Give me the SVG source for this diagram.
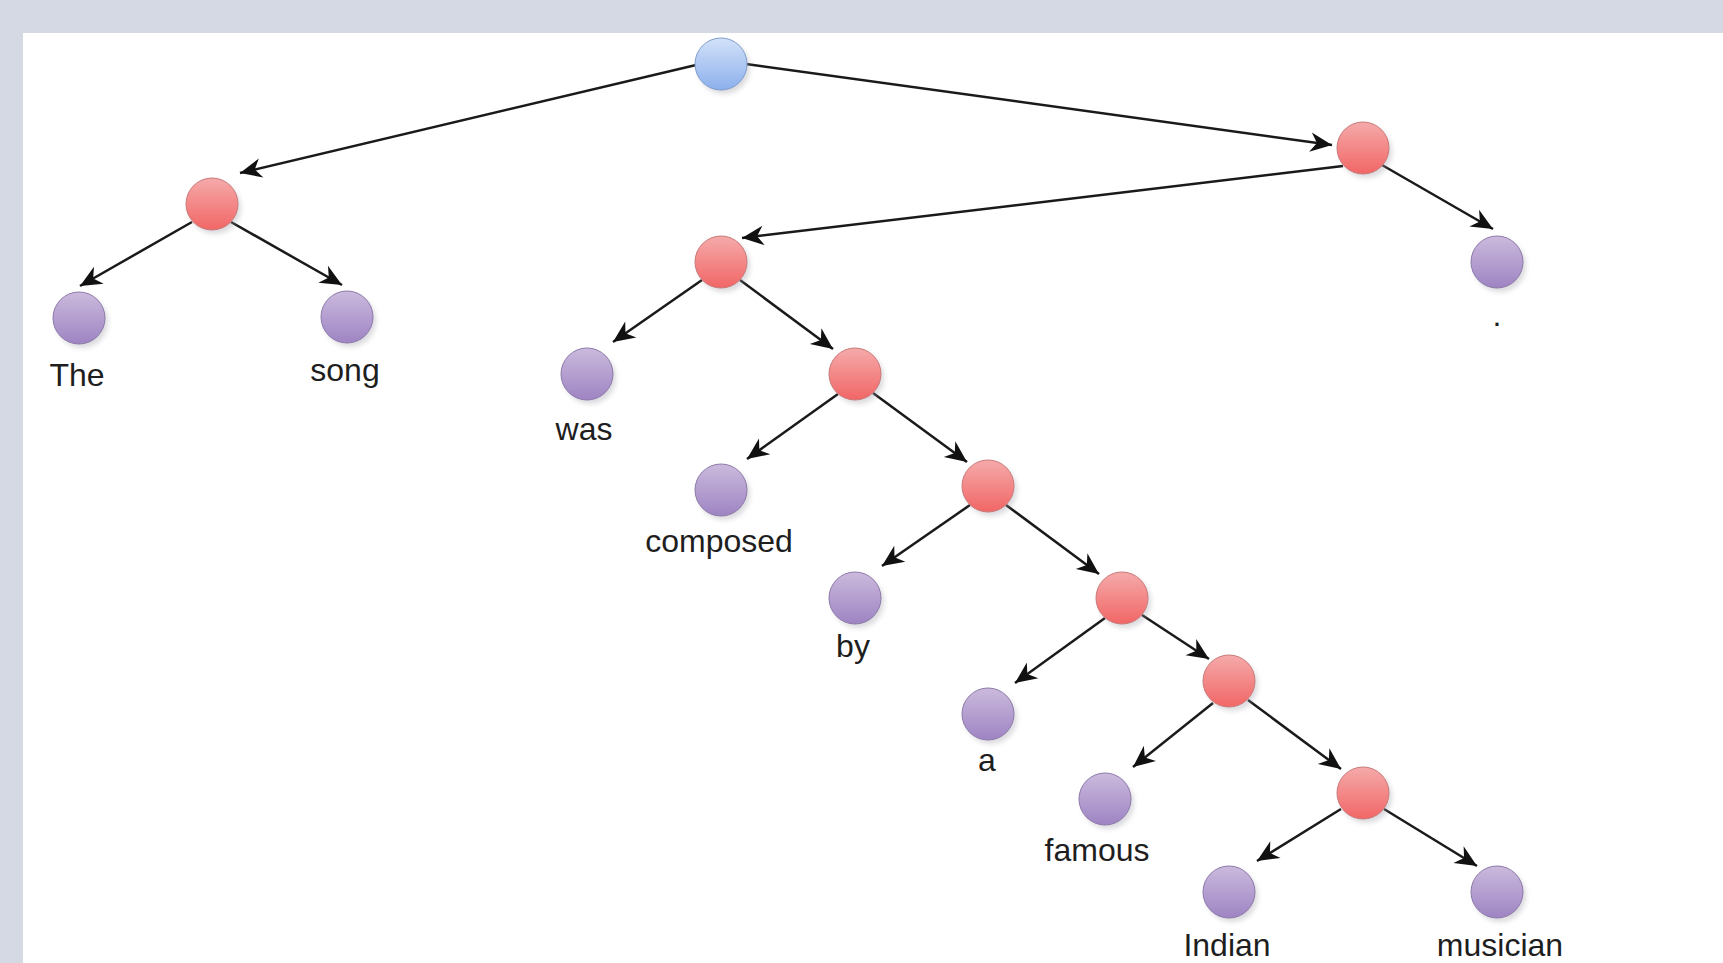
<svg xmlns="http://www.w3.org/2000/svg" width="1723" height="963" viewBox="0 0 1723 963">
<defs>
<linearGradient id="gPink" x1="0" y1="0" x2="0" y2="1"><stop offset="0" stop-color="#f5aaaa"/><stop offset="1" stop-color="#f26666"/></linearGradient>
<linearGradient id="gPurple" x1="0" y1="0" x2="0" y2="1"><stop offset="0" stop-color="#cbbadd"/><stop offset="1" stop-color="#9e84c3"/></linearGradient>
<linearGradient id="gBlue" x1="0" y1="0" x2="0" y2="1"><stop offset="0" stop-color="#d2e2f9"/><stop offset="1" stop-color="#8cb0ec"/></linearGradient>
<filter id="blur" x="-50%" y="-50%" width="200%" height="200%"><feGaussianBlur stdDeviation="2.5"/></filter>
<marker id="arr" markerUnits="userSpaceOnUse" markerWidth="26" markerHeight="26" viewBox="-22 -11 24 22" refX="0" refY="0" orient="auto">
<path d="M0,0 L-20,-9 L-14,0 L-20,9 Z" fill="#111"/>
</marker>
</defs>
<style>
.edge{stroke:#1a1a1a;stroke-width:2.5;fill:none;marker-end:url(#arr)}
.sh{fill:#9a9aa6;opacity:0.35;filter:url(#blur)}
.pink{fill:url(#gPink);stroke:#c97a7a;stroke-width:1}
.purple{fill:url(#gPurple);stroke:#8d7aa9;stroke-width:1}
.blue{fill:url(#gBlue);stroke:#7f9dcc;stroke-width:1}
.lbl{font-family:"Liberation Sans",Arial,sans-serif;font-size:32px;fill:#1e1e1e;text-anchor:middle}
</style>
<rect x="0" y="0" width="1723" height="963" fill="#d5d9e3"/>
<rect x="23" y="33" width="1700" height="930" fill="#ffffff"/>
<g id="connectors">
<line class="edge" x1="696" y1="65" x2="240" y2="173"/>
<line class="edge" x1="746" y1="64" x2="1332" y2="145"/>
<line class="edge" x1="1343" y1="166" x2="742" y2="238"/>
<line class="edge" x1="1382" y1="165" x2="1493" y2="229"/>
<line class="edge" x1="192" y1="222" x2="80" y2="286"/>
<line class="edge" x1="231" y1="222" x2="342" y2="285"/>
<line class="edge" x1="702" y1="280" x2="613" y2="342"/>
<line class="edge" x1="740" y1="280" x2="833" y2="349"/>
<line class="edge" x1="838" y1="394" x2="747" y2="459"/>
<line class="edge" x1="873" y1="393" x2="967" y2="462"/>
<line class="edge" x1="970" y1="505" x2="882" y2="566"/>
<line class="edge" x1="1006" y1="505" x2="1099" y2="574"/>
<line class="edge" x1="1105" y1="618" x2="1015" y2="683"/>
<line class="edge" x1="1142" y1="615" x2="1209" y2="659"/>
<line class="edge" x1="1213" y1="703" x2="1133" y2="767"/>
<line class="edge" x1="1248" y1="700" x2="1341" y2="769"/>
<line class="edge" x1="1341" y1="809" x2="1257" y2="861"/>
<line class="edge" x1="1384" y1="809" x2="1477" y2="866"/>
</g>
<g id="root"><circle class="sh" cx="724" cy="68" r="26"/><circle class="blue" cx="721" cy="64" r="26"/></g>
<g id="np1"><circle class="sh" cx="215" cy="208" r="26"/><circle class="pink" cx="212" cy="204" r="26"/></g>
<g id="the"><circle class="sh" cx="82" cy="322" r="26"/><circle class="purple" cx="79" cy="318" r="26"/><text class="lbl" x="77" y="386">The</text></g>
<g id="song"><circle class="sh" cx="350" cy="321" r="26"/><circle class="purple" cx="347" cy="317" r="26"/><text class="lbl" x="345" y="381">song</text></g>
<g id="vp1"><circle class="sh" cx="1366" cy="152" r="26"/><circle class="pink" cx="1363" cy="148" r="26"/></g>
<g id="period"><circle class="sh" cx="1500" cy="266" r="26"/><circle class="purple" cx="1497" cy="262" r="26"/><text class="lbl" x="1497" y="326">.</text></g>
<g id="vp2"><circle class="sh" cx="724" cy="266" r="26"/><circle class="pink" cx="721" cy="262" r="26"/></g>
<g id="was"><circle class="sh" cx="590" cy="378" r="26"/><circle class="purple" cx="587" cy="374" r="26"/><text class="lbl" x="584" y="440">was</text></g>
<g id="vp3"><circle class="sh" cx="858" cy="378" r="26"/><circle class="pink" cx="855" cy="374" r="26"/></g>
<g id="composed"><circle class="sh" cx="724" cy="494" r="26"/><circle class="purple" cx="721" cy="490" r="26"/><text class="lbl" x="719" y="552">composed</text></g>
<g id="pp"><circle class="sh" cx="991" cy="490" r="26"/><circle class="pink" cx="988" cy="486" r="26"/></g>
<g id="by"><circle class="sh" cx="858" cy="602" r="26"/><circle class="purple" cx="855" cy="598" r="26"/><text class="lbl" x="853" y="657">by</text></g>
<g id="np2"><circle class="sh" cx="1125" cy="602" r="26"/><circle class="pink" cx="1122" cy="598" r="26"/></g>
<g id="a"><circle class="sh" cx="991" cy="718" r="26"/><circle class="purple" cx="988" cy="714" r="26"/><text class="lbl" x="987" y="771">a</text></g>
<g id="np3"><circle class="sh" cx="1232" cy="685" r="26"/><circle class="pink" cx="1229" cy="681" r="26"/></g>
<g id="famous"><circle class="sh" cx="1108" cy="803" r="26"/><circle class="purple" cx="1105" cy="799" r="26"/><text class="lbl" x="1097" y="861">famous</text></g>
<g id="np4"><circle class="sh" cx="1366" cy="797" r="26"/><circle class="pink" cx="1363" cy="793" r="26"/></g>
<g id="indian"><circle class="sh" cx="1232" cy="896" r="26"/><circle class="purple" cx="1229" cy="892" r="26"/><text class="lbl" x="1227" y="956">Indian</text></g>
<g id="musician"><circle class="sh" cx="1500" cy="896" r="26"/><circle class="purple" cx="1497" cy="892" r="26"/><text class="lbl" x="1500" y="956">musician</text></g>
</svg>
